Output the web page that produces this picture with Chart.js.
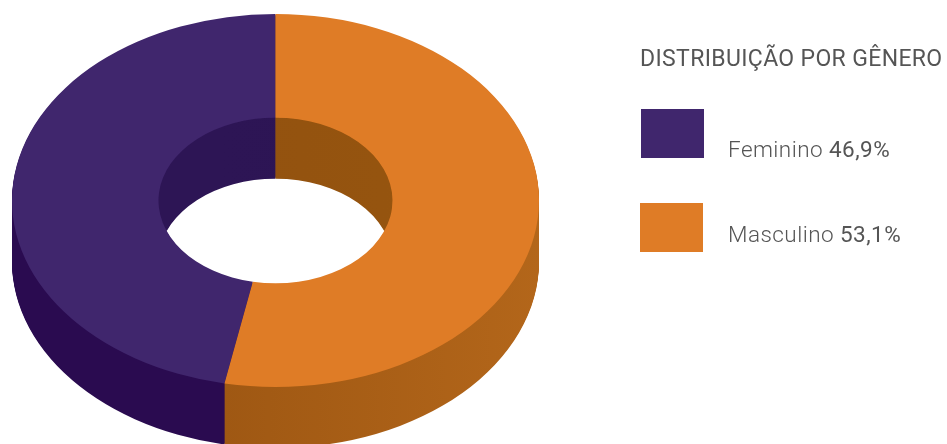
<!DOCTYPE html>
<html lang="pt">
<head>
<meta charset="utf-8">
<title>Distribuição por gênero</title>
<script src="https://cdn.jsdelivr.net/npm/chart.js@4"></script>
<style>
  html, body { margin: 0; padding: 0; background: #fff; width: 947px; height: 444px; overflow: hidden; }
  #wrap { position: relative; width: 947px; height: 444px; font-family: Roboto, sans-serif; color: #555; }
  canvas { position: absolute; left: 0; top: 0; }
  #titulo { position: absolute; left: 640px; top: 45px; font-size: 23px; line-height: 28px; letter-spacing: 0.35px; white-space: nowrap; }
  .caixa { position: absolute; width: 63px; height: 49px; }
  .rotulo { position: absolute; left: 728px; font-size: 22.5px; line-height: 26px; letter-spacing: 0.45px; font-weight: 300; white-space: nowrap; }
  .rotulo b { font-weight: 400; }
</style>
</head>
<body>
<div id="wrap">
  <canvas id="myChart" width="947" height="444"></canvas>
  <div id="titulo"></div>
</div>
<script>
var titulo = 'DISTRIBUIÇÃO POR GÊNERO';
var categorias = ['Feminino', 'Masculino'];
var valores = [46.9, 53.1];
var coresTopo = ['#40266d', '#df7c26'];
var coresInterna = [['#2d1555', '#2b1353'], ['#93520f', '#97560f']];
var coresExterna = [['#2a0b50', '#2a0b50'], ['#9f5813', '#b3661a']];
var caixasEsq = [641, 640];
var caixasTopo = [109, 203];
var rotulosTopo = [136, 221];

var ALTURA_PAREDE = 61;
var ESTICA_X = 263.5 / 186.5;

function gradientes(ctx, arco, pares) {
  return pares.map(function (par) {
    var g = ctx.createLinearGradient(arco.x - arco.outerRadius, 0, arco.x + arco.outerRadius, 0);
    g.addColorStop(0.4, par[0]);
    g.addColorStop(1, par[1]);
    return g;
  });
}

// empilha cópias do anel, de baixo para cima, para formar a parede
function desenhaParede(ctx, arcos, cores) {
  for (var k = ALTURA_PAREDE; k >= 1; k--) {
    ctx.save();
    ctx.translate(0, k);
    arcos.forEach(function (arco, i) {
      var copia = Object.create(arco, {
        options: { value: Object.assign({}, arco.options, { backgroundColor: cores[i] }) }
      });
      Chart.ArcElement.prototype.draw.call(copia, ctx);
    });
    ctx.restore();
  }
}

var anel3d = {
  id: 'anel3d',
  beforeDatasetsDraw: function (chart) {
    var ctx = chart.ctx;
    var arcos = chart.getDatasetMeta(0).data;
    var a = arcos[0];

    ctx.save();
    ctx.translate(a.x, 0);
    ctx.scale(ESTICA_X, 1);
    ctx.translate(-a.x, 0);

    desenhaParede(ctx, arcos, gradientes(ctx, a, coresExterna));

    // dentro do furo a parede é mais escura
    ctx.save();
    ctx.beginPath();
    ctx.arc(a.x, a.y, a.innerRadius, 0, Math.PI * 2);
    ctx.clip();
    ctx.clearRect(0, 0, chart.width * 2, chart.height);
    desenhaParede(ctx, arcos, gradientes(ctx, a, coresInterna));
    ctx.restore();
  },
  afterDatasetsDraw: function (chart) {
    chart.ctx.restore();
  }
};

function montaLegenda() {
  var wrap = document.getElementById('wrap');
  document.getElementById('titulo').textContent = titulo;
  categorias.forEach(function (nome, i) {
    var caixa = document.createElement('div');
    caixa.className = 'caixa';
    caixa.style.left = caixasEsq[i] + 'px';
    caixa.style.top = caixasTopo[i] + 'px';
    caixa.style.background = coresTopo[i];
    wrap.appendChild(caixa);

    var rotulo = document.createElement('div');
    rotulo.className = 'rotulo';
    rotulo.style.top = rotulosTopo[i] + 'px';
    rotulo.innerHTML = nome + ' <b>' + String(valores[i]).replace('.', ',') + '%</b>';
    wrap.appendChild(rotulo);
  });
}

function init() {
  montaLegenda();
  var ctx = document.getElementById('myChart').getContext('2d');
  new Chart(ctx, {
    type: 'doughnut',
    plugins: [anel3d],
    data: {
      labels: categorias,
      datasets: [{
        data: valores,
        backgroundColor: coresTopo,
        borderWidth: 0,
        clip: false
      }]
    },
    options: {
      responsive: false,
      animation: false,
      cutout: '44.4%',
      rotation: -valores[0] * 3.6,
      layout: { padding: { left: 89, right: 485, top: 14, bottom: 57 } },
      plugins: { legend: { display: false }, tooltip: { enabled: false } }
    }
  });
}

init();
</script>
</body>
</html>
